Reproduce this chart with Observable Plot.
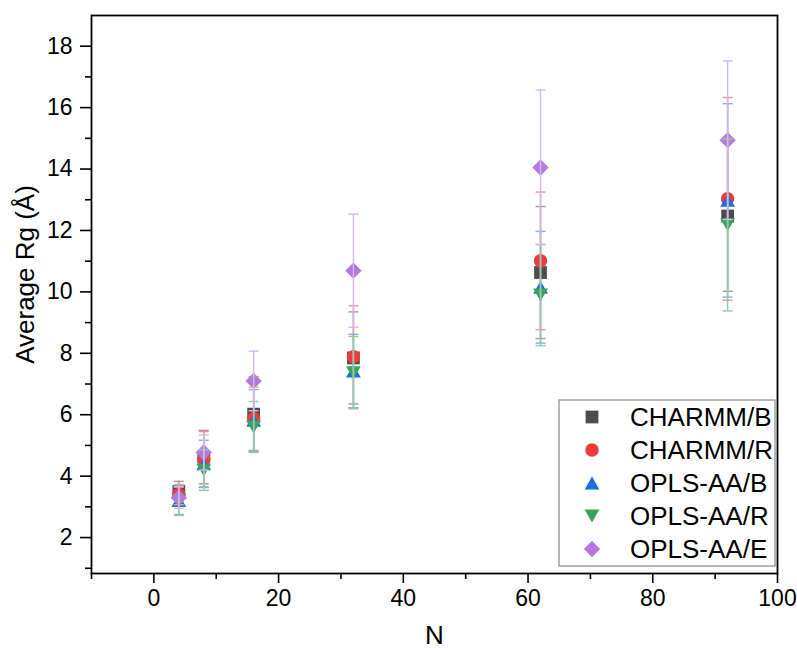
<!DOCTYPE html>
<html>
<head>
<meta charset="utf-8">
<script src="https://cdn.jsdelivr.net/npm/d3@7"></script>
<script src="https://cdn.jsdelivr.net/npm/@observablehq/plot@0.6"></script>
<style>
  html, body { margin: 0; padding: 0; background: white; }
  #chart { width: 797px; height: 651px; }
</style>
</head>
<body>
<div id="chart"></div>
<script>
// ---- data ----
const N = [4, 8, 16, 32, 62, 92];
const seriesNames = ["CHARMM/B", "CHARMM/R", "OPLS-AA/B", "OPLS-AA/R", "OPLS-AA/E"];
const charmmB    = [3.50, 4.62, 6.02, 7.85, 10.63, 12.47];
const charmmBErr = [0.33, 0.87, 1.22, 1.50, 2.15, 2.45];
const charmmR    = [3.40, 4.55, 5.87, 7.89, 11.01, 13.03];
const charmmRErr = [0.33, 0.90, 1.03, 1.66, 2.24, 3.30];
const oplsB      = [3.20, 4.40, 5.82, 7.42, 10.15, 12.98];
const oplsBErr   = [0.45, 0.77, 1.00, 1.20, 1.82, 3.15];
const oplsR      = [3.20, 4.20, 5.60, 7.37, 9.90, 12.18];
const oplsRErr   = [0.48, 0.66, 0.83, 1.18, 1.65, 2.80];
const oplsE      = [3.30, 4.77, 7.10, 10.69, 14.05, 14.94];
const oplsEErr   = [0.35, 0.57, 0.97, 1.84, 2.52, 2.58];
const colors = ["#4d4d4d", "#ef3b3b", "#1d6ddc", "#36a45f", "#b27ae0"];
const xMajor = [0, 20, 40, 60, 80, 100];
const xMinor = [-10, 10, 30, 50, 70, 90];
const yMajor = [2, 4, 6, 8, 10, 12, 14, 16, 18];
const yMinor = [1, 3, 5, 7, 9, 11, 13, 15, 17];

// ---- symbols ----
const symSquare = {draw(ctx, size) { const h = 0.5 * Math.sqrt(size); ctx.rect(-h, -h, 2 * h, 2 * h); }};
const symCircle = {draw(ctx, size) { const r = 0.53 * Math.sqrt(size); ctx.moveTo(r, 0); ctx.arc(0, 0, r, 0, 2 * Math.PI); }};
const symUp = {draw(ctx, size) { const s = Math.sqrt(size), w = 0.58 * s, h = 0.5 * s; ctx.moveTo(0, -h); ctx.lineTo(w, h); ctx.lineTo(-w, h); ctx.closePath(); }};
const symDown = {draw(ctx, size) { const s = Math.sqrt(size), w = 0.58 * s, h = 0.5 * s; ctx.moveTo(-w, -h); ctx.lineTo(w, -h); ctx.lineTo(0, h); ctx.closePath(); }};
const symDiamond = {draw(ctx, size) { const r = 0.64 * Math.sqrt(size); ctx.moveTo(0, -r); ctx.lineTo(r, 0); ctx.lineTo(0, r); ctx.lineTo(-r, 0); ctx.closePath(); }};
const symCap = {draw(ctx, size) { const w = Math.sqrt(size / Math.PI); ctx.moveTo(-w, 0); ctx.lineTo(w, 0); }};
const symbols = [symSquare, symCircle, symUp, symDown, symDiamond];

const values = [charmmB, charmmR, oplsB, oplsR, oplsE];
const errs = [charmmBErr, charmmRErr, oplsBErr, oplsRErr, oplsEErr];
const series = seriesNames.map((name, i) => ({
  name, color: colors[i], symbol: symbols[i],
  tint: d3.interpolateRgb(colors[i], "white")(0.45),
  rows: N.map((n, j) => ({N: n, y: values[i][j], e: errs[i][j]}))
}));

const R = 7.2;
const markerMarks = series.map(s => Plot.dot(s.rows, {x: "N", y: "y", symbol: s.symbol, r: R, fill: s.color, stroke: "none"}));
const errMarks = series.flatMap(s => [
  Plot.ruleX(s.rows, {x: "N", y1: d => d.y - d.e, y2: d => d.y + d.e, stroke: s.tint, strokeWidth: 1.4}),
  Plot.dot(s.rows, {x: "N", y: d => d.y + d.e, symbol: symCap, r: 5, fill: "none", stroke: s.tint, strokeWidth: 1.4}),
  Plot.dot(s.rows, {x: "N", y: d => d.y - d.e, symbol: symCap, r: 5, fill: "none", stroke: s.tint, strokeWidth: 1.4})
]);

const chart = Plot.plot({
  width: 797, height: 651,
  marginLeft: 91, marginRight: 20, marginTop: 15, marginBottom: 78,
  x: {domain: [-10, 100]},
  y: {domain: [0.83, 19.0]},
  style: {fontFamily: "'Liberation Sans', Arial, sans-serif", fontSize: "23px", color: "black", background: "white"},
  marks: [
    ...markerMarks,
    ...errMarks,
    Plot.frame({stroke: "black", strokeWidth: 1.8}),
    Plot.axisX({ticks: xMajor, tickSize: 10, tickPadding: 6, strokeWidth: 1.6, label: null, fontSize: 23, tickFormat: d => String(d)}),
    Plot.axisX({ticks: xMinor, tickSize: 6, strokeWidth: 1.6, label: null, tickFormat: () => ""}),
    Plot.axisY({ticks: yMajor, tickSize: 11, tickPadding: 8, strokeWidth: 1.6, label: null, fontSize: 23, tickFormat: d => String(d)}),
    Plot.axisY({ticks: yMinor, tickSize: 6, strokeWidth: 1.6, label: null, tickFormat: () => ""}),
    Plot.text(["N"], {text: d => d, frameAnchor: "bottom", dy: 70, fontSize: 26}),
    Plot.text(["Average Rg (Å)"], {text: d => d, frameAnchor: "left", textAnchor: "middle", dx: -66, dy: -20, rotate: -90, fontSize: 26})
  ]
});
document.getElementById("chart").appendChild(chart);

// ---- legend (inside the plot area, lower right) ----
const svg = d3.select(chart);
const lg = svg.append("g").attr("transform", "translate(559,400)");
lg.append("rect").attr("width", 216).attr("height", 166).attr("fill", "white").attr("stroke", "#888").attr("stroke-width", 1.2);
series.forEach((s, i) => {
  const cy = 17 + i * 33;
  lg.append("path")
    .attr("d", d3.symbol(s.symbol, Math.PI * R * R)())
    .attr("transform", `translate(33,${cy})`)
    .attr("fill", s.color);
  lg.append("text")
    .attr("x", 71).attr("y", cy).attr("dy", "0.36em")
    .attr("text-anchor", "start")
    .style("font-size", "26px")
    .style("text-anchor", "start")
    .attr("fill", "black")
    .text(s.name);
});
</script>
</body>
</html>
